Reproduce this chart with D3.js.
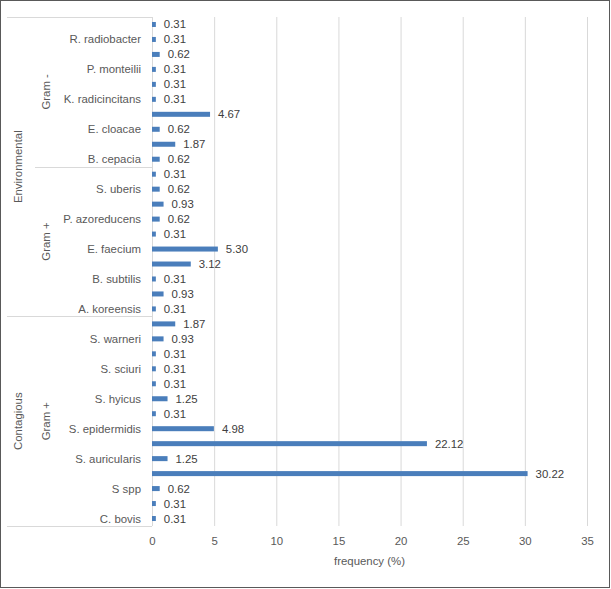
<!doctype html>
<html>
  <head>
    <script src="https://cdn.jsdelivr.net/npm/d3@7"></script>
    <style>
      body { margin: 0; background: #fff; }
      text { font-family: "Liberation Sans", Arial, sans-serif; }
    </style>
  </head>
  <body>
    <svg id="chart" width="611" height="589"></svg>

    <script>
      // top to bottom, as in the picture; null = label Excel skipped
      var labels = [
        null, "R. radiobacter", null, "P. monteilii", null, "K. radicincitans",
        null, "E. cloacae", null, "B. cepacia",
        null, "S. uberis", null, "P. azoreducens", null, "E. faecium",
        null, "B. subtilis", null, "A. koreensis",
        null, "S. warneri", null, "S. sciuri", null, "S. hyicus",
        null, "S. epidermidis", null, "S. auricularis", null, "S spp",
        null, "C. bovis"
      ];
      var values = [
        0.31, 0.31, 0.62, 0.31, 0.31, 0.31, 4.67, 0.62, 1.87, 0.62,
        0.31, 0.62, 0.93, 0.62, 0.31, 5.30, 3.12, 0.31, 0.93, 0.31,
        1.87, 0.93, 0.31, 0.31, 0.31, 1.25, 0.31, 4.98, 22.12, 1.25,
        30.22, 0.62, 0.31, 0.31
      ];
      var outerGroups = ["Environmental", "Contagious"];
      var outerSpans = [[0, 20], [20, 34]];
      var innerGroups = ["Gram -", "Gram +", "Gram +"];
      var innerSpans = [[0, 10], [10, 20], [20, 34]];
      var xTicks = [0, 5, 10, 15, 20, 25, 30, 35];

      var svg = d3.select("#chart");

      var plotTop = 17, plotBottom = 526, plotLeft = 152, plotRight = 587;
      var fontSize = "11.4px";

      var x = d3.scaleLinear().domain([0, 35]).range([plotLeft, plotRight]);
      var y = d3.scaleBand().domain(d3.range(values.length)).range([plotTop, plotBottom]);

      // chart border
      svg.append("rect")
        .attr("x", 0.5).attr("y", 0.5)
        .attr("width", 609).attr("height", 587)
        .attr("fill", "#fff")
        .attr("stroke", "#595959");

      // x axis with gridlines
      var xAxis = svg.append("g")
        .attr("transform", "translate(0," + plotBottom + ")")
        .call(d3.axisBottom(x).tickValues(xTicks).tickSizeInner(-(plotBottom - plotTop)).tickSizeOuter(0).tickPadding(11));
      xAxis.select(".domain").remove();
      xAxis.selectAll("line").attr("stroke", "#d9d9d9");
      xAxis.selectAll("text")
        .attr("fill", "#595959")
        .style("font-size", fontSize)
        .style("font-family", "Liberation Sans, Arial, sans-serif");

      svg.append("text")
        .attr("x", (plotLeft + plotRight) / 2)
        .attr("y", 565)
        .attr("text-anchor", "middle")
        .attr("fill", "#595959")
        .style("font-size", fontSize)
        .text("frequency (%)");

      // category table lines
      var lineColor = "#d9d9d9";
      svg.append("line")
        .attr("x1", plotLeft + 0.5).attr("x2", plotLeft + 0.5)
        .attr("y1", plotTop).attr("y2", plotBottom)
        .attr("stroke", lineColor);
      [plotTop, y(outerSpans[0][1]), plotBottom].forEach(function(yy) {
        svg.append("line")
          .attr("x1", 7).attr("x2", plotLeft)
          .attr("y1", Math.round(yy) + 0.5).attr("y2", Math.round(yy) + 0.5)
          .attr("stroke", lineColor);
      });
      svg.append("line")
        .attr("x1", 35).attr("x2", plotLeft)
        .attr("y1", Math.round(y(innerSpans[0][1])) + 0.5).attr("y2", Math.round(y(innerSpans[0][1])) + 0.5)
        .attr("stroke", lineColor);

      // bars
      svg.append("g").selectAll("rect")
        .data(values)
        .enter()
        .append("rect")
        .attr("x", plotLeft)
        .attr("y", (d, i) => y(i) + y.bandwidth() / 2 - 2.5)
        .attr("width", d => x(d) - plotLeft)
        .attr("height", 5)
        .attr("fill", "#4a7ebb");

      // data labels
      svg.append("g").selectAll("text")
        .data(values)
        .enter()
        .append("text")
        .attr("x", d => x(d) + 8)
        .attr("y", (d, i) => y(i) + y.bandwidth() / 2)
        .attr("dy", "0.35em")
        .attr("fill", "#404040")
        .style("font-size", fontSize)
        .text(d => d.toFixed(2));

      // category labels
      svg.append("g").selectAll("text")
        .data(labels.map((l, i) => ({ l: l, i: i })).filter(d => d.l))
        .enter()
        .append("text")
        .attr("x", 141)
        .attr("y", d => y(d.i) + y.bandwidth() / 2)
        .attr("dy", "0.35em")
        .attr("text-anchor", "end")
        .attr("fill", "#595959")
        .style("font-size", fontSize)
        .text(d => d.l);

      // group labels, rotated
      function groupLabel(name, span, cx) {
        var cy = (y(span[0]) + (span[1] < values.length ? y(span[1]) : plotBottom)) / 2;
        svg.append("text")
          .attr("transform", "translate(" + cx + "," + cy + ") rotate(-90)")
          .attr("text-anchor", "middle")
          .attr("dy", "0.35em")
          .attr("fill", "#595959")
          .style("font-size", fontSize)
          .text(name);
      }
      outerGroups.forEach((g, i) => groupLabel(g, outerSpans[i], 18));
      innerGroups.forEach((g, i) => groupLabel(g, innerSpans[i], 46));
    </script>
  </body>
</html>
